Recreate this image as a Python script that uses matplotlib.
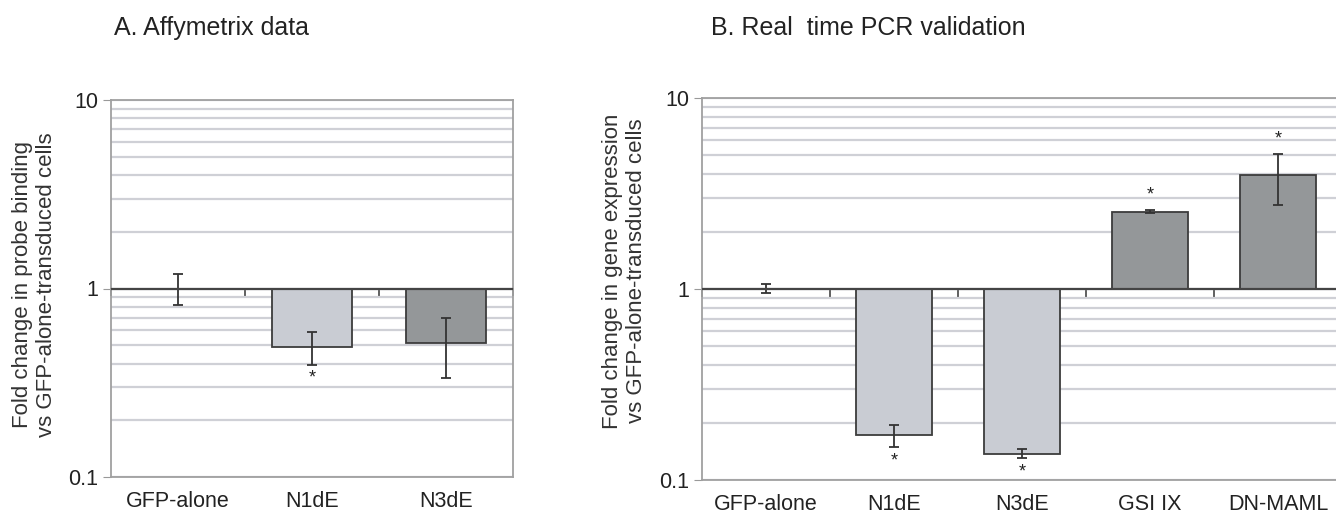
import numpy as np
import matplotlib
matplotlib.use('Agg')
import matplotlib.pyplot as plt
from matplotlib.ticker import FixedLocator, NullFormatter, FuncFormatter

plt.rcParams['font.family'] = ['Liberation Sans', 'DejaVu Sans']

# panel A: Affymetrix
a_labels = ['GFP-alone', 'N1dE', 'N3dE']
a_values = [1.0, 0.49, 0.515]
a_err_hi = [1.19, 0.59, 0.70]
a_err_lo = [0.815, 0.395, 0.335]
a_stars = ['', 'below', '']

# panel B: real time PCR
b_labels = ['GFP-alone', 'N1dE', 'N3dE', 'GSI IX', 'DN-MAML']
b_values = [1.0, 0.172, 0.136, 2.54, 3.97]
b_err_hi = [1.065, 0.195, 0.145, 2.58, 5.1]
b_err_lo = [0.95, 0.148, 0.130, 2.50, 2.75]
b_stars = ['', 'below', 'below', 'above', 'above']

light = '#c9ccd3'
dark = '#949799'
a_colors = [light, light, dark]
b_colors = [light, light, light, dark, dark]

W, H = 1336, 514
fig = plt.figure(figsize=(W / 100, H / 100), dpi=100)


def panel(rect, labels, values, hi, lo, stars, colors, ylabel, ylab_xy, title, title_x):
    ax = fig.add_axes(rect)
    n = len(labels)
    x = np.arange(n)
    v = np.array(values)
    ax.set_yscale('log')
    ax.set_ylim(0.1, 10)
    ax.set_xlim(-0.5, n - 0.5)

    # gridlines at every minor/major decade step
    ax.yaxis.set_major_locator(FixedLocator([0.1, 1, 10]))
    ax.yaxis.set_minor_locator(FixedLocator([m * d for d in (0.1, 1) for m in range(2, 10)]))
    ax.yaxis.set_minor_formatter(NullFormatter())
    ax.yaxis.set_major_formatter(FuncFormatter(lambda val, pos: '{:g}'.format(val)))
    ax.grid(True, which='both', axis='y', color='#cfd0d6', lw=1.6, zorder=0)
    ax.set_axisbelow(True)

    ax.bar(x, v - 1, bottom=1, width=0.6, color=colors, edgecolor='#3c3c3c',
           linewidth=1.3, zorder=2)
    yerr = [v - np.array(lo), np.array(hi) - v]
    ax.errorbar(x, v, yerr=yerr, fmt='none', ecolor='#333333', elinewidth=1.3,
                capsize=3.8, capthick=1.3, zorder=3)
    for i, s in enumerate(stars):
        if s == 'below':
            ax.annotate('*', (x[i], lo[i]), xytext=(0, -10), textcoords='offset points',
                        ha='center', va='center', fontsize=13, color='#222222')
        elif s == 'above':
            ax.annotate('*', (x[i], hi[i]), xytext=(0, 11), textcoords='offset points',
                        ha='center', va='center', fontsize=13, color='#222222')

    # category labels along the bottom
    ax.set_xticks(x)
    ax.set_xticklabels(labels, fontsize=15.5, color='#222222')
    ax.tick_params(axis='x', length=0, pad=10)
    ax.tick_params(axis='y', which='major', length=6, color='#999999', labelsize=15.5,
                   pad=3, labelcolor='#222222')
    ax.tick_params(axis='y', which='minor', length=0)
    for sp in ax.spines.values():
        sp.set_color('#a0a0a0')
        sp.set_linewidth(1.3)

    # horizontal axis crossing at 1, ticks at category boundaries pointing down
    ax.axhline(1, color='#444444', lw=1.6, zorder=4)
    sec = ax.secondary_xaxis(0.5)
    sec.set_xticks(np.arange(n + 1) - 0.5)
    sec.set_xticklabels([])
    sec.tick_params(direction='in', length=6, width=1.2, color='#444444')
    for side in ('top', 'bottom'):
        sec.spines[side].set_visible(False)

    ax.set_ylabel(ylabel, fontsize=16, linespacing=1.15, color='#333333', va='center')
    ax.yaxis.set_label_coords(*ylab_xy)
    fig.text(title_x / W, 1 - 35 / H, title, fontsize=18, ha='left', va='baseline',
             color='#222222')
    return ax


panel([111 / W, 37 / H, 402 / W, 377 / H], a_labels, a_values, a_err_hi, a_err_lo,
      a_stars, a_colors,
      'Fold change in probe binding\nvs GFP-alone-transduced cells', (-0.19, 0.51),
      'A. Affymetrix data', 114)
panel([702 / W, 34 / H, 640 / W, 382 / H], b_labels, b_values, b_err_hi, b_err_lo,
      b_stars, b_colors,
      'Fold change in gene expression\nvs GFP-alone-transduced cells', (-0.121, 0.547),
      'B. Real  time PCR validation', 711)

fig.savefig('out.png', dpi=100)
